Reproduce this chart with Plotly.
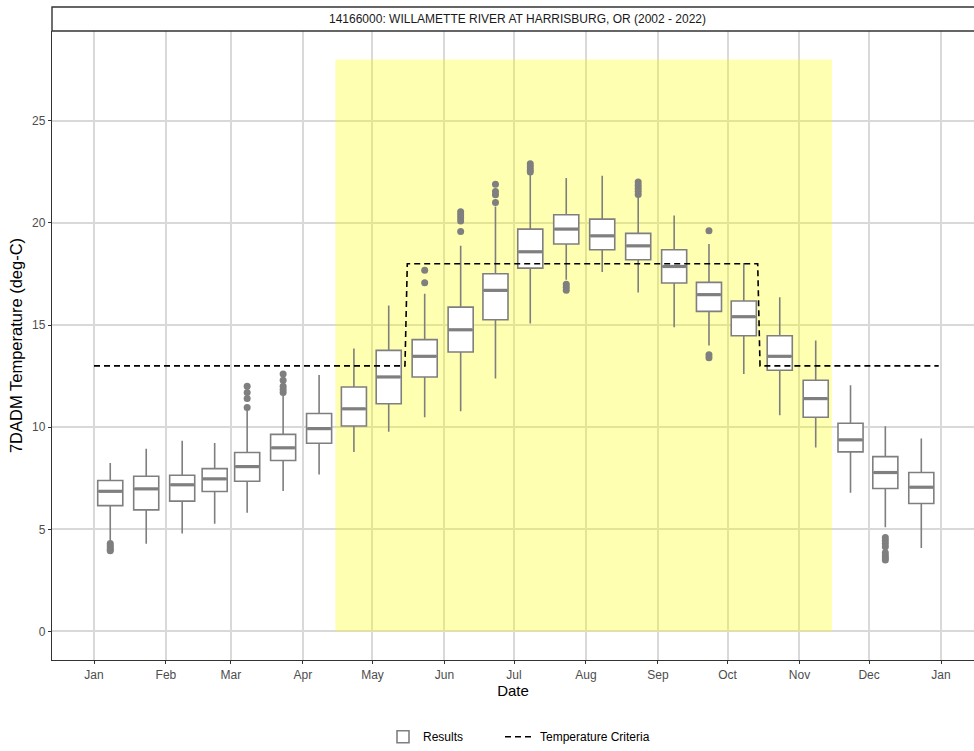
import plotly.graph_objects as go
from datetime import datetime, timedelta

# ---------------- data ----------------
box_dates = ["2022-01-08", "2022-01-23 12:00", "2022-02-08", "2022-02-22",
             "2022-03-08", "2022-03-23 12:00", "2022-04-08", "2022-04-23",
             "2022-05-08", "2022-05-23 12:00", "2022-06-08", "2022-06-23",
             "2022-07-08", "2022-07-23 12:00", "2022-08-08", "2022-08-23 12:00",
             "2022-09-08", "2022-09-23", "2022-10-08", "2022-10-23 12:00",
             "2022-11-08", "2022-11-23", "2022-12-08", "2022-12-23 12:00"]
upper_whisker = [8.25, 8.95, 9.34, 9.23, 10.86, 11.6, 12.56, 13.85, 15.96, 16.54, 18.88, 20.81,
                 22.44, 22.2, 22.31, 21.3, 20.37, 18.97, 18.04, 16.36, 14.25, 12.05, 10.05, 9.44]
q3 = [7.39, 7.6, 7.65, 7.97, 8.76, 9.65, 10.67, 11.97, 13.76, 14.29, 15.88, 17.51,
      19.7, 20.4, 20.19, 19.49, 18.69, 17.09, 16.18, 14.48, 12.3, 10.19, 8.56, 7.78]
median = [6.86, 6.98, 7.18, 7.47, 8.07, 8.99, 9.93, 10.9, 12.46, 13.47, 14.77, 16.7,
          18.59, 19.7, 19.37, 18.88, 17.87, 16.49, 15.41, 13.47, 11.4, 9.38, 7.78, 7.06]
q1 = [6.16, 5.95, 6.38, 6.85, 7.35, 8.37, 9.21, 10.06, 11.15, 12.46, 13.68, 15.26,
      17.79, 18.97, 18.69, 18.2, 17.06, 15.67, 14.48, 12.79, 10.49, 8.79, 7.0, 6.26]
lower_whisker = [4.45, 4.29, 4.79, 5.27, 5.81, 6.88, 7.68, 8.79, 9.78, 10.49, 10.78, 12.39,
                 15.08, 17.22, 17.6, 16.6, 14.89, 14.0, 12.61, 10.58, 9.0, 6.79, 5.1, 4.09]

outlier_box = [0, 0, 0, 0, 0,
               4, 4, 4, 4,
               5, 5, 5, 5, 5,
               9, 9,
               10, 10, 10, 10, 10,
               11, 11, 11, 11,
               12, 12, 12, 12,
               13, 13, 13,
               15, 15, 15, 15, 15,
               17, 17, 17,
               22, 22, 22, 22, 22, 22, 22, 22]
outlier_temp = [4.3, 4.2, 4.1, 4.0, 3.95,
                12.0, 11.7, 11.4, 10.97,
                12.6, 12.3, 12.0, 11.85, 11.7,
                17.69, 17.07,
                20.55, 20.4, 20.25, 20.1, 19.58,
                21.9, 21.54, 21.38, 21.0,
                22.9, 22.75, 22.6, 22.5,
                17.0, 16.85, 16.7,
                22.0, 21.85, 21.7, 21.55, 21.4,
                19.62, 13.55, 13.4,
                4.6, 4.45, 4.3, 4.15, 3.85, 3.7, 3.6, 3.5]

crit_dates = ["2022-01-01", "2022-05-15", "2022-05-16", "2022-10-14", "2022-10-15", "2022-12-31"]
crit_temp = [13, 13, 18, 18, 13, 13]

shade_start, shade_end = "2022-04-15", "2022-11-15"
shade_top = 28

title_text = "14166000: WILLAMETTE RIVER AT HARRISBURG, OR (2002 - 2022)"
y_ticks = [0, 5, 10, 15, 20, 25]

# ---------------- styles ----------------
GREY = "#7f7f7f"
FONT = "Liberation Sans, Arial, sans-serif"
box_days = 10.8

fig = go.Figure()

fig.add_shape(type="rect", xref="x", yref="y", x0=shade_start, x1=shade_end, y0=0, y1=shade_top,
              fillcolor="rgba(255,255,0,0.3)", line_width=0, layer="between")

fig.add_trace(go.Box(
    x=box_dates, q1=q1, median=median, q3=q3,
    lowerfence=lower_whisker, upperfence=upper_whisker,
    width=box_days * 86400000, whiskerwidth=0, boxpoints=False,
    fillcolor="white", line=dict(color=GREY, width=1.6),
    name="Results", showlegend=True, legend="legend", hoverinfo="skip"))

# thicker median bars (ggplot style)
mx, my = [], []
half = timedelta(days=box_days / 2 - 0.35)
for d, m in zip(box_dates, median):
    dt = datetime.fromisoformat(d)
    mx += [dt - half, dt + half, None]
    my += [m, m, None]
fig.add_trace(go.Scatter(x=mx, y=my, mode="lines", line=dict(color=GREY, width=3.2),
                         showlegend=False, hoverinfo="skip"))

fig.add_trace(go.Scatter(
    x=[box_dates[i] for i in outlier_box], y=outlier_temp, mode="markers",
    marker=dict(color=GREY, size=7), showlegend=False, hoverinfo="skip"))

fig.add_trace(go.Scatter(
    x=crit_dates, y=crit_temp, mode="lines", name="Temperature Criteria",
    line=dict(color="black", width=1.6, dash="6px,4px"), legend="legend2"))

# facet strip
strip_h = (31 - 7) / 629
fig.add_shape(type="rect", xref="paper", yref="paper", x0=0, x1=1.05, y0=1, y1=1 + strip_h,
              fillcolor="white", line=dict(color="#333333", width=1.4), layer="above")
fig.add_annotation(text=title_text, xref="paper", yref="paper", x=0.505, y=1 + strip_h / 2,
                   showarrow=False, font=dict(family=FONT, size=12, color="#1a1a1a"),
                   xanchor="center", yanchor="middle")

axis_common = dict(showgrid=True, gridcolor="#D9D9D9", gridwidth=1.5, zeroline=False,
                   showline=True, linecolor="#333333", linewidth=1.3,
                   ticks="outside", ticklen=3, tickcolor="#333333", tickwidth=1.1,
                   automargin=False,
                   tickfont=dict(family=FONT, size=12, color="#4d4d4d"))

legend_common = dict(orientation="h", xanchor="left", y=-0.122, yanchor="middle",
                     font=dict(family=FONT, size=12, color="black"), bgcolor="rgba(0,0,0,0)",
                     itemwidth=30)

fig.update_layout(
    width=974, height=751, template="none",
    margin=dict(l=52, r=0, t=31, b=91, autoexpand=False),
    paper_bgcolor="white", plot_bgcolor="white",
    font=dict(family=FONT),
    xaxis=dict(range=["2021-12-13 21:36", "2023-01-15 05:00"], type="date",
               dtick="M1", tick0="2022-01-01", tickformat="%b", mirror=False,
               title=dict(text="Date", font=dict(family=FONT, size=15, color="black"), standoff=4),
               **axis_common),
    yaxis=dict(range=[-1.4, 29.4], tickvals=y_ticks,
               title=dict(text="7DADM Temperature (deg-C)", font=dict(family=FONT, size=16.5, color="black"),
                          standoff=5),
               **axis_common),
    legend=dict(x=(383 - 52) / 922, **legend_common),
    legend2=dict(x=(500 - 52) / 922, **legend_common),
    showlegend=True,
)

fig.write_html("out.html", config={"displayModeBar": False},
               post_script="document.body.style.margin='0';document.body.style.overflow='hidden';")
